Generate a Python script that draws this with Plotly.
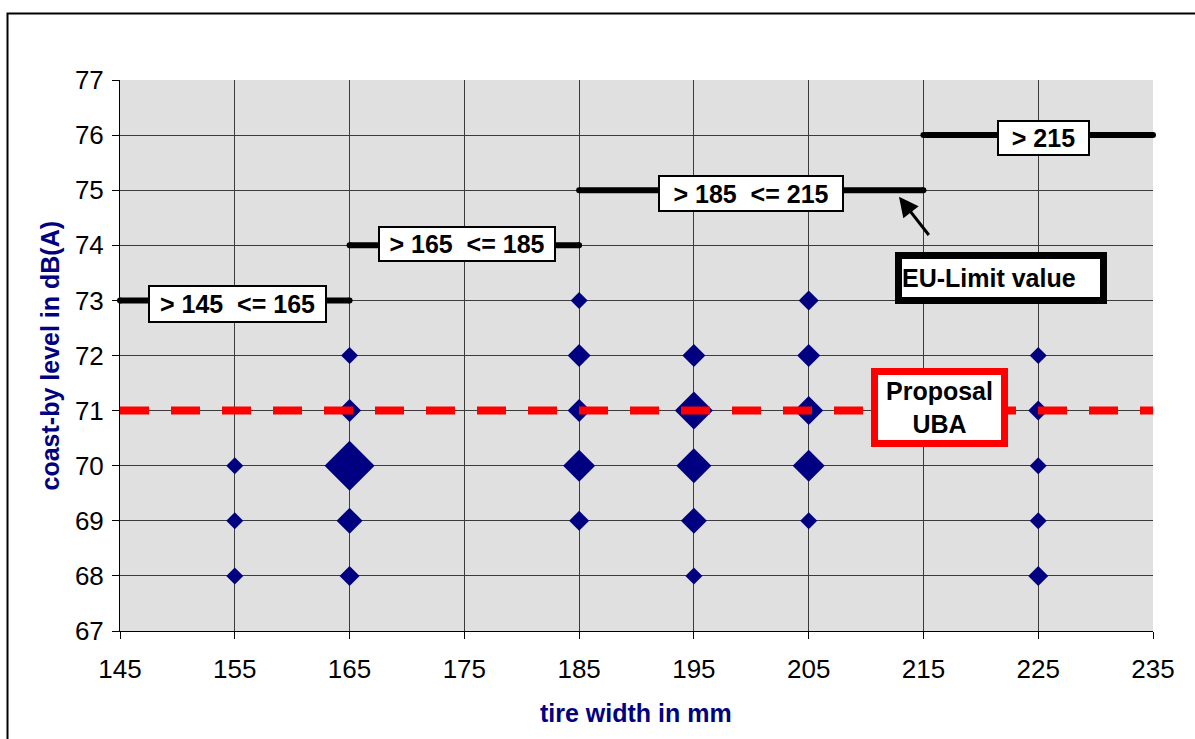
import plotly.graph_objects as go

# Tire width classes (mm) and measured coast-by levels (dB(A)),
# with the number of tires found at each width/level combination.
tire_width = [155, 155, 155,
              165, 165, 165, 165, 165,
              185, 185, 185, 185, 185,
              195, 195, 195, 195, 195,
              205, 205, 205, 205, 205,
              225, 225, 225, 225, 225]
coast_by_level = [70, 69, 68,
                  72, 71, 70, 69, 68,
                  73, 72, 71, 70, 69,
                  72, 71, 70, 69, 68,
                  73, 72, 71, 70, 69,
                  72, 71, 70, 69, 68]
tire_count = [1, 1, 1,
              1, 3, 12, 4, 2,
              1, 3, 3, 6, 2,
              3, 8, 7, 4, 1,
              2, 3, 5, 6, 1,
              1, 2, 1, 1, 2]

# EU limit values per width class (class borders in mm)
limit_borders = [145, 165, 185, 215, 235]
limit_values = [73, 74, 75, 76]
limit_labels = ["&gt; 145  &lt;= 165", "&gt; 165  &lt;= 185",
                "&gt; 185  &lt;= 215", "&gt; 215"]

# Proposed limit (UBA)
proposal_value = 71

x_ticks = [145, 155, 165, 175, 185, 195, 205, 215, 225, 235]
y_ticks = [67, 68, 69, 70, 71, 72, 73, 74, 75, 76, 77]

FONT = "Liberation Sans, Arial, sans-serif"
NAVY = "#000080"

fig = go.Figure()

# diamond markers, edge length grows with the number of tires
marker_sizes = [(14 + 3 * n) / 1.3 for n in tire_count]
fig.add_trace(go.Scatter(
    x=tire_width, y=coast_by_level, mode="markers",
    marker=dict(symbol="diamond", color=NAVY, size=marker_sizes,
                opacity=1, line=dict(width=0)),
    cliponaxis=False, showlegend=False, hoverinfo="x+y",
))

# step line of the EU limit values
step_x, step_y = [], []
for i, v in enumerate(limit_values):
    step_x += [limit_borders[i], limit_borders[i + 1], None]
    step_y += [v, v, None]
fig.add_trace(go.Scatter(
    x=step_x, y=step_y, mode="lines+markers",
    line=dict(color="black", width=6),
    marker=dict(symbol="circle", color="black", size=6, opacity=1),
    cliponaxis=False, showlegend=False,
))

# proposed limit as red dashed line
fig.add_trace(go.Scatter(
    x=[limit_borders[0], limit_borders[-1]],
    y=[proposal_value, proposal_value], mode="lines",
    line=dict(color="#FF0000", width=8, dash="29px,22px"),
    showlegend=False,
))

annotations = []

# labels of the width classes, sitting on the step line
label_pos = [(155.24, 72.94, 175, 34), (175.19, 74.03, 174, 32),
             (199.97, 74.94, 182, 33), (225.46, 75.95, 89, 32)]
for text, (lx, ly, w, h) in zip(limit_labels, label_pos):
    annotations.append(dict(
        x=lx, y=ly, xref="x", yref="y", text=text, showarrow=False,
        font=dict(family=FONT, size=25, color="black", weight="bold"),
        bgcolor="white", bordercolor="black", borderwidth=2, borderpad=0,
        width=w, height=h, xanchor="center", yanchor="middle",
    ))

# arrow pointing at the limit line
annotations.append(dict(
    x=212.87, y=74.88, xref="x", yref="y",
    ax=215.57, ay=74.16, axref="x", ayref="y",
    text="", showarrow=True, arrowhead=2, arrowsize=1.3,
    arrowwidth=3, arrowcolor="black", standoff=0, startstandoff=0,
))

annotations.append(dict(
    x=221.76, y=73.41, xref="x", yref="y", text="EU-Limit value",
    showarrow=False, align="left",
    font=dict(family=FONT, size=25, color="black", weight="bold"),
    bgcolor="white", bordercolor="black", borderwidth=7, borderpad=0,
    width=198, height=38, xanchor="center", yanchor="middle",
))

annotations.append(dict(
    x=216.40, y=71.06, xref="x", yref="y", text="Proposal<br>UBA",
    showarrow=False, align="center",
    font=dict(family=FONT, size=25, color="black", weight="bold"),
    bgcolor="white", bordercolor="#FF0000", borderwidth=7, borderpad=0,
    width=123, height=65, xanchor="center", yanchor="middle",
))

# axis titles
annotations.append(dict(
    x=0.4995, y=-0.148, xref="paper", yref="paper",
    text="tire width in mm", showarrow=False,
    font=dict(family=FONT, size=25, color=NAVY, weight="bold"),
    xanchor="center", yanchor="middle",
))
annotations.append(dict(
    x=-0.0678, y=0.5, xref="paper", yref="paper",
    text="coast-by level in dB(A)", showarrow=False, textangle=-90,
    font=dict(family=FONT, size=25, color=NAVY, weight="bold"),
    xanchor="center", yanchor="middle",
))

axis_common = dict(
    showgrid=True, gridcolor="#3c3c3c", gridwidth=1,
    showline=True, linecolor="black", linewidth=1,
    ticks="outside", ticklen=7, tickcolor="black", tickwidth=1,
    tickfont=dict(family=FONT, size=26, color="black"),
    zeroline=False, fixedrange=True,
)

fig.update_layout(
    width=1195, height=739, autosize=False,
    margin=dict(l=120, r=42, t=80, b=108, pad=0),
    paper_bgcolor="white", plot_bgcolor="#E0E0E0",
    xaxis=dict(range=[145, 235], tickmode="array", tickvals=x_ticks,
               ticklabelstandoff=8, **axis_common),
    yaxis=dict(range=[67, 77], tickmode="array", tickvals=y_ticks,
               ticklabelstandoff=3, **axis_common),
    annotations=annotations,
    shapes=[dict(type="rect", xref="paper", yref="paper",
                 x0=-0.1089, x1=1.1, y0=-0.3, y1=1.1207,
                 line=dict(color="black", width=2),
                 fillcolor="rgba(0,0,0,0)", layer="above")],
    showlegend=False,
)

fig.write_html("out.html")
